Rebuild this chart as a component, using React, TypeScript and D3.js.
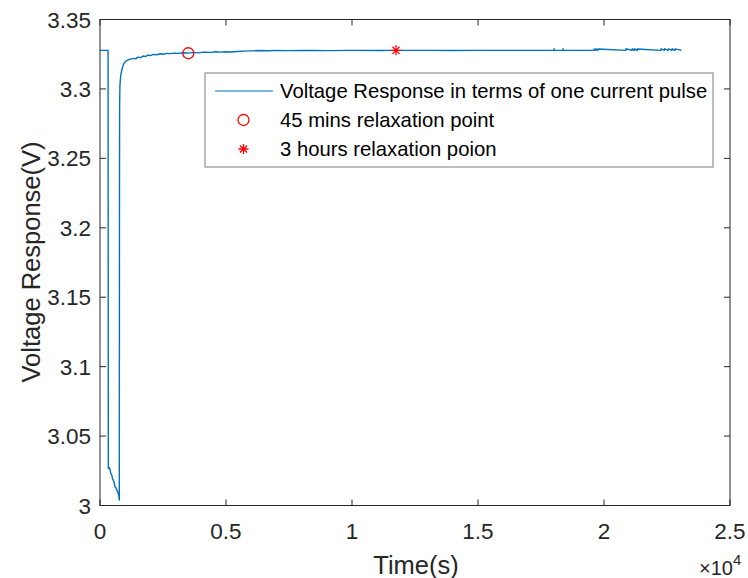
import React from "react";
import * as d3 from "d3";

// ---- data ----
const timeS: number[] = [
  0, 320, 330, 330, 360, 397, 424, 450, 476, 503, 530, 556, 595, 630, 663, 702, 742, 766,
  772, 778, 790, 821, 870, 925, 990, 1060, 1180, 1321, 1420, 1500, 1600, 1718, 1800, 1900, 2000, 2115,
  2250, 2400, 2500, 2647, 2800, 2950, 3100, 3306, 3500, 3700, 3900, 4100, 4400, 4600, 4762, 5000, 5200,
  5450, 5700, 6000, 6300, 6700, 7000, 7500, 8000, 8500,
  9000, 10000, 11000, 11746, 13000, 14000, 15000, 16000, 17000,
  18016, 18020, 18024, 18373, 18377, 18381, 19603, 19607, 19680, 19684, 19762, 19766,
  20873, 20877, 21111, 21115, 21200, 21204, 21310, 21314,
  22262, 22266, 22400, 22404, 22550, 22554, 22700, 22704, 22817, 22821, 23080,
];
const voltage: number[] = [
  3.3278, 3.3278, 3.0315, 3.0267, 3.0275, 3.026, 3.0231, 3.0225, 3.0212, 3.0188, 3.0182, 3.0171, 3.0135, 3.0128, 3.0112, 3.0099, 3.0076, 3.004,
  3.2, 3.285, 3.3025, 3.3095, 3.314, 3.3175, 3.3194, 3.3205, 3.3213, 3.322, 3.3216, 3.3229, 3.3225, 3.3237, 3.3233, 3.3244, 3.3240, 3.3249,
  3.3246, 3.3253, 3.3250, 3.3256, 3.3254, 3.3258, 3.3256, 3.3261, 3.3258, 3.3263, 3.3260, 3.3265, 3.3263, 3.3268, 3.3265, 3.3268, 3.3266,
  3.3270, 3.3272, 3.3274, 3.3277, 3.3275, 3.3278, 3.3276, 3.3278, 3.3277,
  3.3276, 3.3278, 3.3277, 3.3278, 3.3278, 3.3277, 3.3278, 3.3278, 3.3278,
  3.3278, 3.3290, 3.3278, 3.3278, 3.3289, 3.3278, 3.3278, 3.3288, 3.3278, 3.3289, 3.3278, 3.3288,
  3.3278, 3.3289, 3.3278, 3.3288, 3.3278, 3.3289, 3.3278, 3.3288,
  3.3278, 3.3289, 3.3278, 3.3289, 3.3278, 3.3288, 3.3278, 3.3289, 3.3278, 3.3288, 3.3278,
];
const markerCircle = { t: 3504, v: 3.3257 };
const markerStar = { t: 11746, v: 3.3278 };

const xTicks = [0, 5000, 10000, 15000, 20000, 25000];
const xTickLabels = ["0", "0.5", "1", "1.5", "2", "2.5"];
const yTicks = [3, 3.05, 3.1, 3.15, 3.2, 3.25, 3.3, 3.35];
const yTickLabels = ["3", "3.05", "3.1", "3.15", "3.2", "3.25", "3.3", "3.35"];
const legendLabels = [
  "Voltage Response in terms of one current pulse",
  "45 mins relaxation point",
  "3 hours relaxation poion",
];

const W = 748;
const H = 578;
const FONT = "'Liberation Sans', Arial, Helvetica, sans-serif";
const LINE = "#0072BD";
const RED = "#FF0000";
const AX = "#262626";

export default function App() {
  const left = 100, right = 730, top = 19.5, bottom = 505.5;
  const x = d3.scaleLinear().domain([0, 25000]).range([left, right]);
  const y = d3.scaleLinear().domain([3, 3.35]).range([bottom, top]);
  const pts: [number, number][] = timeS.map((t, i) => [t, voltage[i]]);
  const path = d3
    .line<[number, number]>()
    .x((d) => x(d[0]))
    .y((d) => y(d[1]))(pts) as string;

  const tick = 6;
  const cx = x(markerCircle.t), cy = y(markerCircle.v);
  const sx = x(markerStar.t), sy = y(markerStar.v);

  const star = (px: number, py: number, r: number) => {
    const d = r * 0.7071;
    return `M${px - r},${py}L${px + r},${py}M${px},${py - r}L${px},${py + r}M${px - d},${py - d}L${px + d},${py + d}M${px - d},${py + d}L${px + d},${py - d}`;
  };

  const lgX = 205, lgY = 73, lgW = 508, lgH = 94;
  const rows = [91, 120, 149];

  return (
    <svg
      width={W}
      height={H}
      style={{ position: "absolute", left: 0, top: 0, background: "#fff" }}
      fontFamily={FONT}
    >
      <rect x={0} y={0} width={W} height={H} fill="#fff" />
      <defs>
        <clipPath id="plotclip">
          <rect x={left} y={top} width={right - left} height={bottom - top} />
        </clipPath>
      </defs>
      <path d={path} fill="none" stroke={LINE} strokeWidth={1.4} strokeLinejoin="round" clipPath="url(#plotclip)" />
      <circle cx={cx} cy={cy} r={5.5} fill="none" stroke={RED} strokeWidth={1.3} />
      <path d={star(sx, sy, 5)} stroke={RED} strokeWidth={1.3} fill="none" />

      <rect x={left} y={top} width={right - left} height={bottom - top} fill="none" stroke={AX} strokeWidth={1} />
      {xTicks.map((t, i) => (
        <g key={"xt" + i}>
          <line x1={x(t)} x2={x(t)} y1={bottom} y2={bottom - tick} stroke={AX} />
          <line x1={x(t)} x2={x(t)} y1={top} y2={top + tick} stroke={AX} />
          <text x={x(t)} y={539} textAnchor="middle" fontSize={22.5} fill={AX}>
            {xTickLabels[i]}
          </text>
        </g>
      ))}
      {yTicks.map((v, i) => (
        <g key={"yt" + i}>
          <line x1={left} x2={left + tick} y1={y(v)} y2={y(v)} stroke={AX} />
          <line x1={right} x2={right - tick} y1={y(v)} y2={y(v)} stroke={AX} />
          <text x={91} y={y(v) + 8} textAnchor="end" fontSize={22.5} fill={AX}>
            {yTickLabels[i]}
          </text>
        </g>
      ))}
      <text x={416} y={574} textAnchor="middle" fontSize={25.5} fill={AX}>
        Time(s)
      </text>
      <text
        transform={`translate(40,262) rotate(-90)`}
        textAnchor="middle"
        fontSize={25.5}
        fill={AX}
      >
        Voltage Response(V)
      </text>
      <text x={699} y={575} fontSize={20} fill={AX}>
        ×10
        <tspan dy={-10} fontSize={15}>4</tspan>
      </text>

      <rect x={lgX} y={lgY} width={lgW} height={lgH} fill="#fff" stroke="#7f7f7f" strokeWidth={1} />
      <line x1={215} x2={273} y1={rows[0]} y2={rows[0]} stroke={LINE} strokeWidth={1.2} />
      <circle cx={243.5} cy={rows[1]} r={5.5} fill="none" stroke={RED} strokeWidth={1.3} />
      <path d={star(243.5, rows[2], 5)} stroke={RED} strokeWidth={1.3} fill="none" />
      {legendLabels.map((s, i) => (
        <text key={"lg" + i} x={280} y={rows[i] + 7} fontSize={20.3} fill="#000">
          {s}
        </text>
      ))}
    </svg>
  );
}
